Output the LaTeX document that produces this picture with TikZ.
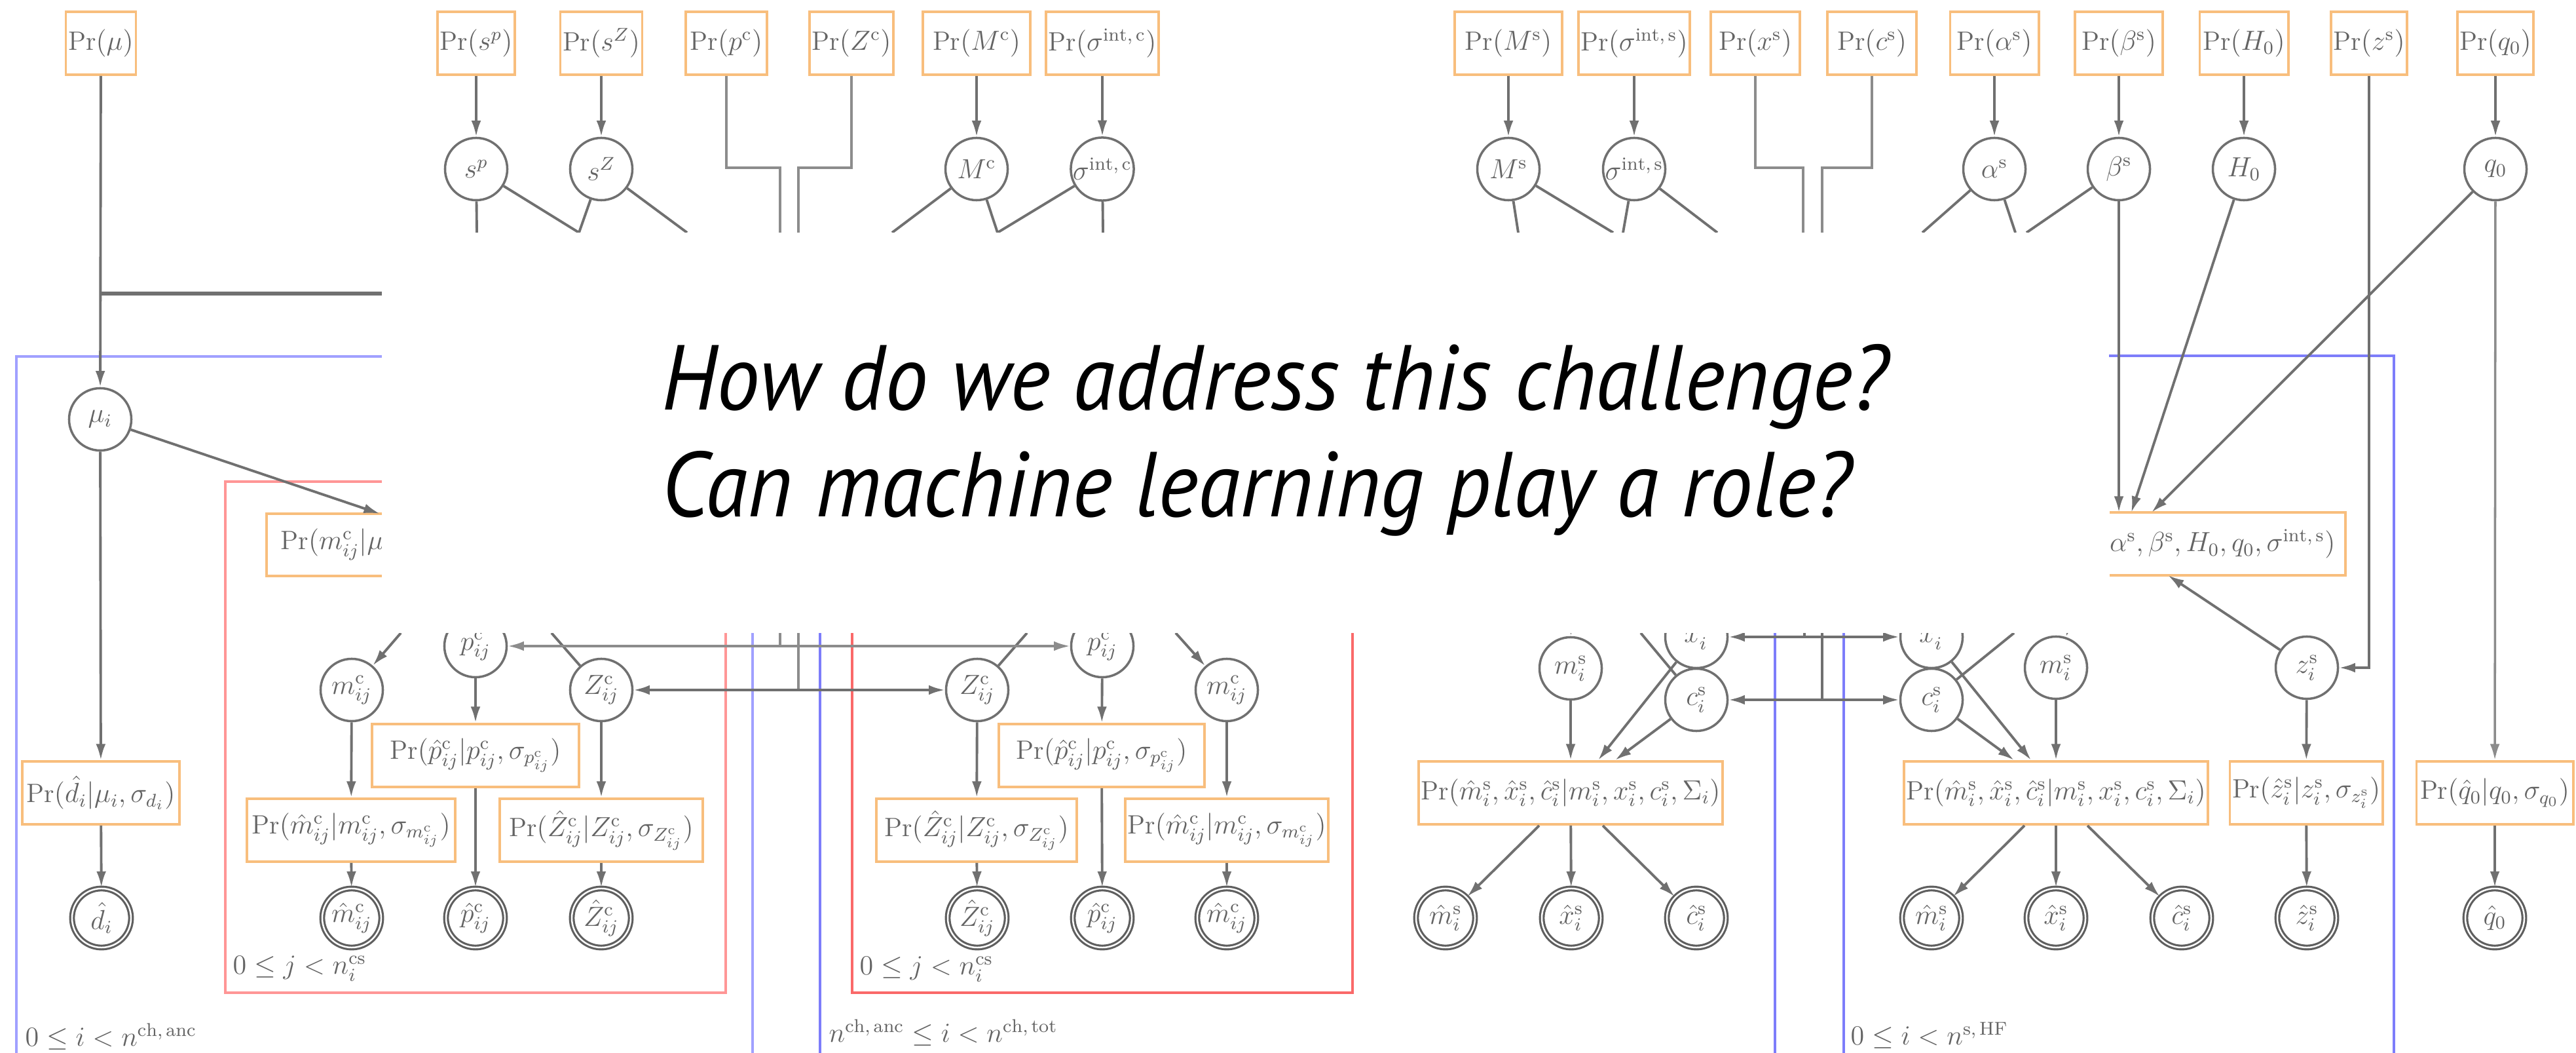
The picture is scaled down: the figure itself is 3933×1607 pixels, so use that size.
\documentclass[tikz,border=0pt]{standalone}
\usepackage{fontspec}
\newfontfamily\slidefont[FakeStretch=0.935]{PT Sans}
\usetikzlibrary{arrows.meta}
\definecolor{boxor}{RGB}{248,190,125}
\definecolor{txtg}{RGB}{100,100,100}
\definecolor{lineg}{RGB}{112,112,112}
\definecolor{lineL}{RGB}{140,140,140}
\definecolor{obsg}{RGB}{95,95,95}
\definecolor{plateb}{RGB}{125,125,250}
\definecolor{platebL}{RGB}{160,160,255}
\definecolor{plater}{RGB}{250,105,105}
\definecolor{platerL}{RGB}{255,150,150}
\newcommand{\dgmfont}{\fontsize{11.5}{13}\selectfont}
\tikzset{
  prbox/.style={draw=boxor, line width=1.1pt, minimum height=0.96cm, inner sep=1pt, text=txtg, font=\dgmfont},
  latent/.style={circle, draw=lineg, line width=1pt, minimum size=0.95cm, inner sep=0pt, text=txtg, font=\dgmfont},
  observed/.style={latent, draw=obsg, double=white, double distance=0.7pt, line width=0.9pt, minimum size=0.9cm},
  conn/.style={draw=lineg, line width=1.1pt},
  connL/.style={draw=lineL, line width=1pt},
  arr/.style={conn, -{Latex[length=7pt,width=4.2pt]}},
  arrL/.style={connL, -{Latex[length=7pt,width=4.2pt]}},
  bluep/.style={draw=plateb, line width=1.3pt},
  bluepL/.style={draw=platebL, line width=1.3pt},
  redp/.style={draw=plater, line width=1.3pt},
  redpL/.style={draw=platerL, line width=1.3pt},
  lbl/.style={text=txtg, font=\dgmfont, anchor=west, inner sep=0pt},
  bigtext/.style={font=\slidefont\itshape\fontsize{40}{46}\selectfont, text=black, anchor=base west, inner sep=0pt}
}
\begin{document}
\begin{tikzpicture}[x=0.01cm, y=-0.01cm]
\useasboundingbox (0,0) rectangle (3933,1607);
\clip (0,0) rectangle (3933,1607);
\fill[white] (0,0) rectangle (3933,1607);

% ---------- plates ----------
\draw[bluepL] (583,544) -- (25,544) -- (25,1620);
\draw[bluepL] (1149,966) -- (1149,1620);
\draw[bluep] (1252,966) -- (1252,1620);
\draw[bluep] (2710,966) -- (2710,1620);
\draw[bluep] (2815,966) -- (2815,1620);
\draw[bluep] (3220,543) -- (3655,543) -- (3655,1620);
\draw[redpL] (583,735) -- (344,735) -- (344,1515) -- (1108,1515) -- (1108,966);
\draw[redp] (1301,966) -- (1301,1515) -- (2065,1515) -- (2065,966);

% ---------- top row priors ----------
\node[prbox, minimum width=1.07cm] (pmu) at (154,66) {$\Pr(\mu)$};
\node[prbox, minimum width=1.14cm] (psp) at (727,66) {$\Pr(s^p)$};
\node[prbox, minimum width=1.23cm] (psZ) at (918,66) {$\Pr(s^Z)$};
\node[prbox, minimum width=1.24cm] (ppc) at (1109,66) {$\Pr(p^{\mathrm{c}})$};
\node[prbox, minimum width=1.25cm] (pZc) at (1300,66) {$\Pr(Z^{\mathrm{c}})$};
\node[prbox, minimum width=1.64cm] (pMc) at (1491,66) {$\Pr(M^{\mathrm{c}})$};
\node[prbox, minimum width=1.64cm] (psic) at (1683,66) {$\Pr(\sigma^{\mathrm{int,\,c}})$};
\node[prbox, minimum width=1.64cm] (pMs) at (2303,66) {$\Pr(M^{\mathrm{s}})$};
\node[prbox, minimum width=1.64cm] (psis) at (2495,66) {$\Pr(\sigma^{\mathrm{int,\,s}})$};
\node[prbox, minimum width=1.36cm] (pxs) at (2680,66) {$\Pr(x^{\mathrm{s}})$};
\node[prbox, minimum width=1.36cm] (pcs) at (2858,66) {$\Pr(c^{\mathrm{s}})$};
\node[prbox, minimum width=1.35cm] (pal) at (3045,66) {$\Pr(\alpha^{\mathrm{s}})$};
\node[prbox, minimum width=1.34cm] (pbe) at (3235,66) {$\Pr(\beta^{\mathrm{s}})$};
\node[prbox, minimum width=1.35cm] (pH) at (3426,66) {$\Pr(H_0)$};
\node[prbox, minimum width=1.15cm] (pzs) at (3617,66) {$\Pr(z^{\mathrm{s}})$};
\node[prbox, minimum width=1.15cm] (pq) at (3810,66) {$\Pr(q_0)$};

% ---------- top row parameters ----------
\node[latent] (sp) at (727,258) {$s^p$};
\node[latent] (sZ) at (918,258) {$s^Z$};
\node[latent] (Mc) at (1491,258) {$M^{\mathrm{c}}$};
\node[latent] (sic) at (1683,258) {$\sigma^{\mathrm{int,\,c}}$};
\node[latent] (Ms) at (2303,258) {$M^{\mathrm{s}}$};
\node[latent] (sis) at (2495,258) {$\sigma^{\mathrm{int,\,s}}$};
\node[latent] (al) at (3045,258) {$\alpha^{\mathrm{s}}$};
\node[latent] (be) at (3235,258) {$\beta^{\mathrm{s}}$};
\node[latent] (H) at (3426,258) {$H_0$};
\node[latent] (q) at (3810,258) {$q_0$};

\foreach \a/\b in {psp/sp, psZ/sZ, pMc/Mc, psic/sic, pMs/Ms, psis/sis, pal/al, pbe/be, pH/H, pq/q}
  \draw[arr] (\a) -- (\b);

% lines running down under the overlay
\coordinate (e1) at (728,355);  \coordinate (e2) at (884,355);
\coordinate (e3) at (1049,355); \coordinate (e4) at (1362,355);
\coordinate (e5) at (1523,355); \coordinate (e6) at (1684,355);
\coordinate (e7) at (2318,355); \coordinate (e8) at (2463,355);
\coordinate (e9) at (2478,355); \coordinate (e10) at (2622,355);
\coordinate (e11) at (2935,355); \coordinate (e12) at (3077,355);
\coordinate (e13) at (3094,355);
\draw[conn] (sp) -- (e1);  \draw[conn] (sp) -- (e2);
\draw[conn] (sZ) -- (e2);  \draw[conn] (sZ) -- (e3);
\draw[conn] (Mc) -- (e4);  \draw[conn] (Mc) -- (e5);
\draw[conn] (sic) -- (e5); \draw[conn] (sic) -- (e6);
\draw[conn] (Ms) -- (e7);  \draw[conn] (Ms) -- (e8);
\draw[conn] (sis) -- (e9); \draw[conn] (sis) -- (e10);
\draw[conn] (al) -- (e11); \draw[conn] (al) -- (e12);
\draw[conn] (be) -- (e13);

% shared parameters routed between plates
\draw[connL] (ppc.south) |- (1191,256) -- (1191,355);
\draw[connL] (pZc.south) |- (1219,256) -- (1219,355);
\draw[connL] (pxs.south) |- (2753,256) -- (2753,355);
\draw[connL] (pcs.south) |- (2782,256) -- (2782,355);

% ---------- left column ----------
\node[latent] (mu) at (153,640) {$\mu_i$};
\node[prbox, minimum width=2.39cm] (pd) at (154,1210) {$\Pr(\hat{d}_i|\mu_i,\sigma_{d_i})$};
\node[observed] (dh) at (155,1401) {$\hat{d}_i$};
\draw[arr] (pmu) -- (mu);
\coordinate (muJ) at (154,448); \coordinate (muE) at (583,448);
\draw[conn, line width=1.8pt] (muJ) -- (muE);
\draw[arr] (mu) -- (pd);
\draw[arr] (pd) -- (dh);

% partly hidden box Pr(m|mu...)
\draw[draw=boxor, line width=1.1pt] (583,784) -- (407,784) -- (407,879) -- (583,879);
\begin{scope}
\clip (400,770) rectangle (583,890);
\node[lbl] (pmctext) at (428,831) {$\Pr(m^{\mathrm{c}}_{ij}|\mu_i$};
\end{scope}
\coordinate (pmcTop) at (580,784);
\draw[arr] (mu) -- (pmcTop);

% ---------- left red plate ----------
\node[latent] (pcL) at (726,986) {$p^{\mathrm{c}}_{ij}$};
\node[latent] (mcL) at (537,1053) {$m^{\mathrm{c}}_{ij}$};
\node[latent] (ZcL) at (918,1053) {$Z^{\mathrm{c}}_{ij}$};
\node[prbox, minimum width=3.16cm] (pphL) at (726,1153) {$\Pr(\hat{p}^{\mathrm{c}}_{ij}|p^{\mathrm{c}}_{ij},\sigma_{p^{\mathrm{c}}_{ij}})$};
\node[prbox, minimum width=3.17cm] (pmhL) at (536,1267) {$\Pr(\hat{m}^{\mathrm{c}}_{ij}|m^{\mathrm{c}}_{ij},\sigma_{m^{\mathrm{c}}_{ij}})$};
\node[prbox, minimum width=3.09cm] (pZhL) at (918,1267) {$\Pr(\hat{Z}^{\mathrm{c}}_{ij}|Z^{\mathrm{c}}_{ij},\sigma_{Z^{\mathrm{c}}_{ij}})$};
\node[observed] (mhL) at (537,1401) {$\hat{m}^{\mathrm{c}}_{ij}$};
\node[observed] (phL) at (726,1401) {$\hat{p}^{\mathrm{c}}_{ij}$};
\node[observed] (ZhL) at (918,1401) {$\hat{Z}^{\mathrm{c}}_{ij}$};
\coordinate (mcInL) at (612,966);
\coordinate (ZcOutL) at (842,966);
\draw[arr] (mcInL) -- (mcL);
\draw[conn] (ZcL) -- (ZcOutL);
\draw[arr] (mcL) -- (pmhL);
\draw[arr] (pmhL) -- (mhL);
\draw[arr] (pcL) -- (pphL);
\draw[arr] (pphL) -- (phL);
\draw[arr] (ZcL) -- (pZhL);
\draw[arr] (pZhL) -- (ZhL);

% ---------- right red plate ----------
\node[latent] (ZcR) at (1492,1053) {$Z^{\mathrm{c}}_{ij}$};
\node[latent] (pcR) at (1683,986) {$p^{\mathrm{c}}_{ij}$};
\node[latent] (mcR) at (1873,1053) {$m^{\mathrm{c}}_{ij}$};
\node[prbox, minimum width=3.14cm] (pphR) at (1682,1153) {$\Pr(\hat{p}^{\mathrm{c}}_{ij}|p^{\mathrm{c}}_{ij},\sigma_{p^{\mathrm{c}}_{ij}})$};
\node[prbox, minimum width=3.06cm] (pZhR) at (1491,1267) {$\Pr(\hat{Z}^{\mathrm{c}}_{ij}|Z^{\mathrm{c}}_{ij},\sigma_{Z^{\mathrm{c}}_{ij}})$};
\node[prbox, minimum width=3.06cm] (pmhR) at (1873,1267) {$\Pr(\hat{m}^{\mathrm{c}}_{ij}|m^{\mathrm{c}}_{ij},\sigma_{m^{\mathrm{c}}_{ij}})$};
\node[observed] (ZhR) at (1492,1401) {$\hat{Z}^{\mathrm{c}}_{ij}$};
\node[observed] (phR) at (1683,1401) {$\hat{p}^{\mathrm{c}}_{ij}$};
\node[observed] (mhR) at (1873,1401) {$\hat{m}^{\mathrm{c}}_{ij}$};
\coordinate (ZcOutR) at (1568,966);
\coordinate (mcInR) at (1795,966);
\draw[conn] (ZcR) -- (ZcOutR);
\draw[arr] (mcInR) -- (mcR);
\draw[arr] (ZcR) -- (pZhR);
\draw[arr] (pZhR) -- (ZhR);
\draw[arr] (pcR) -- (pphR);
\draw[arr] (pphR) -- (phR);
\draw[arr] (mcR) -- (pmhR);
\draw[arr] (pmhR) -- (mhR);

% shared p and Z between plates
\coordinate (pcT) at (1191,966); \coordinate (pcJ) at (1191,986);
\coordinate (zT) at (1219,966);  \coordinate (zJ) at (1219,1053);
\draw[connL] (pcT) -- (pcJ);
\draw[connL] (zT) -- (zJ);
\draw[arrL] (pcJ) -- (pcL);
\draw[arrL] (pcJ) -- (pcR);
\draw[arr] (zJ) -- (ZcL);
\draw[arr] (zJ) -- (ZcR);

% ---------- SN group (calibrators) ----------
\node[latent] (msL) at (2398,1020) {$m^{\mathrm{s}}_i$};
\node[latent] (xsL) at (2590,972) {$x^{\mathrm{s}}_i$};
\node[latent] (csL) at (2590,1068) {$c^{\mathrm{s}}_i$};
\node[prbox, minimum width=4.61cm] (pmsL) at (2398,1210) {$\Pr(\hat{m}^{\mathrm{s}}_i,\hat{x}^{\mathrm{s}}_i,\hat{c}^{\mathrm{s}}_i|m^{\mathrm{s}}_i,x^{\mathrm{s}}_i,c^{\mathrm{s}}_i,\Sigma_i)$};
\node[observed] (mhsL) at (2207,1401) {$\hat{m}^{\mathrm{s}}_i$};
\node[observed] (xhsL) at (2399,1401) {$\hat{x}^{\mathrm{s}}_i$};
\node[observed] (chsL) at (2590,1401) {$\hat{c}^{\mathrm{s}}_i$};
\coordinate (msInL) at (2399,900);
\coordinate (csOutL) at (2505,966);
\draw[arr] (msInL) -- (msL);
\draw[conn] (csL) -- (csOutL);
\draw[arr] (msL) -- (pmsL);
\draw[arr] (xsL) -- ([xshift=0.42cm]pmsL.north);
\draw[arr] (csL) -- ([xshift=0.68cm]pmsL.north);
\draw[arr] ([xshift=-0.48cm]pmsL.south) -- (mhsL);
\draw[arr] (pmsL) -- (xhsL);
\draw[arr] ([xshift=0.49cm]pmsL.south) -- (chsL);

% ---------- SN group (Hubble flow) ----------
\node[latent] (xsR) at (2949,972) {$x^{\mathrm{s}}_i$};
\node[latent] (csR) at (2949,1068) {$c^{\mathrm{s}}_i$};
\node[latent] (msR) at (3139,1019) {$m^{\mathrm{s}}_i$};
\node[latent] (zs) at (3522,1019) {$z^{\mathrm{s}}_i$};
\node[prbox, minimum width=4.61cm] (pmsR) at (3139,1210) {$\Pr(\hat{m}^{\mathrm{s}}_i,\hat{x}^{\mathrm{s}}_i,\hat{c}^{\mathrm{s}}_i|m^{\mathrm{s}}_i,x^{\mathrm{s}}_i,c^{\mathrm{s}}_i,\Sigma_i)$};
\node[prbox, minimum width=2.30cm] (pzh) at (3521,1210) {$\Pr(\hat{z}^{\mathrm{s}}_i|z^{\mathrm{s}}_i,\sigma_{z^{\mathrm{s}}_i})$};
\node[prbox, minimum width=2.39cm] (pqh) at (3809,1210) {$\Pr(\hat{q}_0|q_0,\sigma_{q_0})$};
\node[observed] (mhsR) at (2949,1401) {$\hat{m}^{\mathrm{s}}_i$};
\node[observed] (xhsR) at (3139,1401) {$\hat{x}^{\mathrm{s}}_i$};
\node[observed] (chsR) at (3331,1401) {$\hat{c}^{\mathrm{s}}_i$};
\node[observed] (zh) at (3522,1401) {$\hat{z}^{\mathrm{s}}_i$};
\node[observed] (qh) at (3809,1401) {$\hat{q}_0$};
\coordinate (msInR) at (3185,878);
\coordinate (csOutR) at (3075,966);
\draw[arr] (msInR) -- (msR);
\draw[conn] (csR) -- (csOutR);
\draw[arr] (msR) -- (pmsR);
\draw[arr] (xsR) -- ([xshift=-0.38cm]pmsR.north);
\draw[arr] (csR) -- ([xshift=-0.64cm]pmsR.north);
\draw[arr] ([xshift=-0.48cm]pmsR.south) -- (mhsR);
\draw[arr] (pmsR) -- (xhsR);
\draw[arr] ([xshift=0.48cm]pmsR.south) -- (chsR);
\draw[arr] (zs) -- (pzh);
\draw[arr] (pzh) -- (zh);
\draw[arr] (pzs.south) |- (zs.east);
\draw[arrL] (q) -- (pqh);
\draw[arr] (pqh) -- (qh);

% shared x and c between plates
\coordinate (xT) at (2755,966); \coordinate (xJ) at (2755,972);
\coordinate (cT) at (2782,966); \coordinate (cJ) at (2782,1068);
\draw[conn] (xT) -- (xJ);
\draw[conn] (cT) -- (cJ);
\draw[arr] (xJ) -- (xsL);
\draw[arr] (xJ) -- (xsR);
\draw[arr] (cJ) -- (csL);
\draw[arr] (cJ) -- (csR);

% partly hidden box for m^s (Hubble flow)
\draw[draw=boxor, line width=1.1pt] (3221,782) -- (3581,782) -- (3581,878) -- (3221,878);
\node[lbl, anchor=east] (pmstext) at (3566,830) {$,\alpha^{\mathrm{s}},\beta^{\mathrm{s}},H_0,q_0,\sigma^{\mathrm{int,\,s}})$};
\coordinate (bbBe) at (3235,782);
\coordinate (bbH) at (3254,782);
\coordinate (bbQ) at (3285,782);
\coordinate (bbZ) at (3310,878);
\draw[arr] (be) -- (bbBe);
\draw[arr] (H) -- (bbH);
\draw[arr] (q) -- (bbQ);
\draw[arr] (zs) -- (bbZ);

% ---------- plate labels ----------
\node[lbl] (lj1) at (355,1478) {$0\le j<n_i^{\mathrm{cs}}$};
\node[lbl] (lj2) at (1312,1479) {$0\le j<n_i^{\mathrm{cs}}$};
\node[lbl] (li1) at (38,1582) {$0\le i<n^{\mathrm{ch,\,anc}}$};
\node[lbl] (li2) at (1265,1576) {$n^{\mathrm{ch,\,anc}}\le i<n^{\mathrm{ch,\,tot}}$};
\node[lbl] (li3) at (2825,1580) {$0\le i<n^{\mathrm{s,\,HF}}$};

% ---------- overlay with question ----------
\fill[white] (583,355) rectangle (3220,966);
\node[bigtext] (q1) at (1010,626) {How do we address this challenge?};
\node[bigtext] (q2) at (1010,789) {Can machine learning play a role?};
\end{tikzpicture}
\end{document}
